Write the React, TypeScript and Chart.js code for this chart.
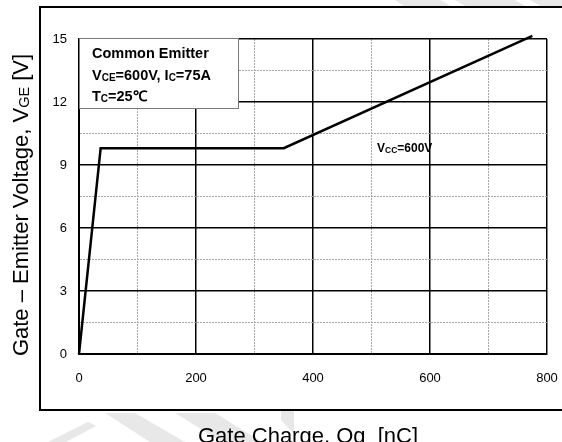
import React, { useEffect, useRef } from 'react';
import { Chart, registerables } from 'chart.js';

Chart.register(...registerables);

// Gate charge curve (Qg in nC vs. VGE in V)
const gateCharge = [0, 37, 350, 775];
const gateVoltage = [0, 9.8, 9.8, 15.15];

// Labelled ticks; the in-between ticks only carry light grid lines
const xLabelTicks = [0, 200, 400, 600, 800];
const yLabelTicks = [0, 3, 6, 9, 12, 15];

const FONT = '"Liberation Sans", Arial, Helvetica, sans-serif';

// Plot rectangle inside the 562x442 canvas
const PLOT = { left: 79, top: 39, right: 547, bottom: 354 };

type Run = { t: string; size: number; bold?: boolean; dy?: number };

function runsWidth(ctx: CanvasRenderingContext2D, runs: Run[]) {
  let w = 0;
  for (const r of runs) {
    ctx.font = `${r.bold ? 'bold ' : ''}${r.size}px ${FONT}`;
    w += ctx.measureText(r.t).width;
  }
  return w;
}

function drawRuns(
  ctx: CanvasRenderingContext2D,
  runs: Run[],
  x: number,
  y: number,
  align: 'left' | 'center' = 'left'
) {
  let cx = align === 'center' ? x - runsWidth(ctx, runs) / 2 : x;
  ctx.textAlign = 'left';
  ctx.textBaseline = 'alphabetic';
  for (const r of runs) {
    ctx.font = `${r.bold ? 'bold ' : ''}${r.size}px ${FONT}`;
    ctx.fillText(r.t, cx, y + (r.dy || 0));
    cx += ctx.measureText(r.t).width;
  }
}

const isMajor = (v: number, step: number) => Math.abs(v / step - Math.round(v / step)) < 1e-6;

const sheetPlugin = {
  id: 'sheet',
  beforeDraw(chart: Chart) {
    const ctx = chart.ctx;
    ctx.save();
    ctx.fillStyle = '#ffffff';
    ctx.fillRect(0, 0, chart.width, chart.height);

    // faint background stripes
    ctx.fillStyle = '#e8e8e8';
    const polys: number[][] = [
      [395, 0, 440, 0, 452, 7, 405, 7],
      [455, 0, 515, 0, 527, 7, 467, 7],
      [530, 0, 562, 0, 562, 7, 542, 7],
      [48, 442, 88, 422, 96, 426, 66, 442],
      [105, 413, 135, 413, 185, 442, 150, 442],
      [175, 413, 215, 413, 262, 442, 222, 442],
      [281, 411, 294, 411, 294, 434, 281, 420],
    ];
    for (const p of polys) {
      ctx.beginPath();
      ctx.moveTo(p[0], p[1]);
      for (let i = 2; i < p.length; i += 2) ctx.lineTo(p[i], p[i + 1]);
      ctx.closePath();
      ctx.fill();
    }

    // outer frame
    ctx.fillStyle = '#ffffff';
    ctx.fillRect(40, 7, 540, 403);
    ctx.strokeStyle = '#000000';
    ctx.lineWidth = 2;
    ctx.strokeRect(40, 7, 540, 403);
    ctx.restore();
  },
  afterDraw(chart: Chart) {
    const ctx = chart.ctx;
    const area = chart.chartArea;
    ctx.save();

    // condition box
    const bx = area.left;
    const by = area.top - 1;
    ctx.fillStyle = '#ffffff';
    ctx.fillRect(bx, by, 159, 70);
    ctx.strokeStyle = '#7a7a7a';
    ctx.lineWidth = 1;
    ctx.strokeRect(bx + 0.5, by + 0.5, 159, 70);

    ctx.fillStyle = '#000000';
    drawRuns(ctx, [{ t: 'Common Emitter', size: 14.5, bold: true }], bx + 13, by + 20);
    drawRuns(
      ctx,
      [
        { t: 'V', size: 14.5, bold: true },
        { t: 'CE', size: 10, bold: true, dy: 1 },
        { t: '=600V, I', size: 14.5, bold: true },
        { t: 'C', size: 10, bold: true, dy: 1 },
        { t: '=75A', size: 14.5, bold: true },
      ],
      bx + 13,
      by + 42
    );
    drawRuns(
      ctx,
      [
        { t: 'T', size: 14.5, bold: true },
        { t: 'C', size: 10, bold: true, dy: 1 },
        { t: '=25℃', size: 14.5, bold: true },
      ],
      bx + 13,
      by + 63
    );

    // curve label
    drawRuns(
      ctx,
      [
        { t: 'V', size: 12, bold: true },
        { t: 'CC', size: 8.5, bold: true, dy: 1 },
        { t: '=600V', size: 12, bold: true },
      ],
      377,
      152
    );

    // axis titles
    ctx.fillStyle = '#000000';
    drawRuns(ctx, [{ t: 'Gate Charge, Qg  [nC]', size: 22 }], 308, 443, 'center');

    ctx.translate(28, 205);
    ctx.rotate(-Math.PI / 2);
    drawRuns(
      ctx,
      [
        { t: 'Gate – Emitter Voltage, V', size: 22 },
        { t: 'GE', size: 14.5, dy: 1 },
        { t: ' [V]', size: 22 },
      ],
      0,
      0,
      'center'
    );
    ctx.restore();
  },
};

export default function App() {
  const ref = useRef<HTMLCanvasElement | null>(null);

  useEffect(() => {
    if (!ref.current) return;
    const chart = new Chart(ref.current, {
      type: 'line',
      data: {
        datasets: [
          {
            data: gateCharge.map((q, i) => ({ x: q, y: gateVoltage[i] })),
            borderColor: '#000000',
            borderWidth: 2.5,
            pointRadius: 0,
            tension: 0,
            fill: false,
            clip: false as any,
          },
        ],
      },
      options: {
        responsive: false,
        animation: false,
        devicePixelRatio: 1,
        layout: { padding: { top: PLOT.top, right: 562 - PLOT.right, left: 0, bottom: 0 } },
        plugins: {
          legend: { display: false },
          tooltip: { enabled: false },
        },
        scales: {
          x: {
            type: 'linear',
            min: 0,
            max: 800,
            afterFit: (s: any) => {
              s.height = 442 - PLOT.bottom;
              s.paddingLeft = 0;
              s.paddingRight = 0;
            },
            ticks: {
              stepSize: 100,
              padding: 17,
              color: '#000000',
              font: { family: FONT, size: 13 },
              maxRotation: 0,
              autoSkip: false,
              callback: (v: any) => (xLabelTicks.includes(Number(v)) ? String(v) : ''),
            },
            grid: {
              drawTicks: false,
              color: (c: any) => (c.tick && isMajor(c.tick.value, 200) ? '#000000' : '#a8a8a8'),
              lineWidth: (c: any) => (c.tick && isMajor(c.tick.value, 200) ? 1.5 : 1),
            },
            border: {
              color: '#000000',
              width: 2,
              dash: (c: any) => (c.tick && isMajor(c.tick.value, 200) ? [] : [2, 1]),
            } as any,
          },
          y: {
            type: 'linear',
            min: 0,
            max: 15,
            afterFit: (s: any) => {
              s.width = PLOT.left;
              s.paddingTop = 0;
              s.paddingBottom = 0;
            },
            ticks: {
              stepSize: 1.5,
              padding: 12,
              color: '#000000',
              font: { family: FONT, size: 13 },
              autoSkip: false,
              callback: (v: any) =>
                yLabelTicks.some((t) => Math.abs(t - Number(v)) < 1e-6) ? String(Math.round(Number(v))) : '',
            },
            grid: {
              drawTicks: false,
              color: (c: any) => (c.tick && isMajor(c.tick.value, 3) ? '#000000' : '#a8a8a8'),
              lineWidth: (c: any) => (c.tick && isMajor(c.tick.value, 3) ? 1.5 : 1),
            },
            border: {
              color: '#000000',
              width: 2,
              dash: (c: any) => (c.tick && isMajor(c.tick.value, 3) ? [] : [2, 1]),
            } as any,
          },
        },
      },
      plugins: [sheetPlugin as any],
    });
    return () => chart.destroy();
  }, []);

  return (
    <div style={{ position: 'fixed', left: 0, top: 0, width: 562, height: 442, background: '#ffffff' }}>
      <canvas ref={ref} width={562} height={442} style={{ display: 'block' }} />
    </div>
  );
}
